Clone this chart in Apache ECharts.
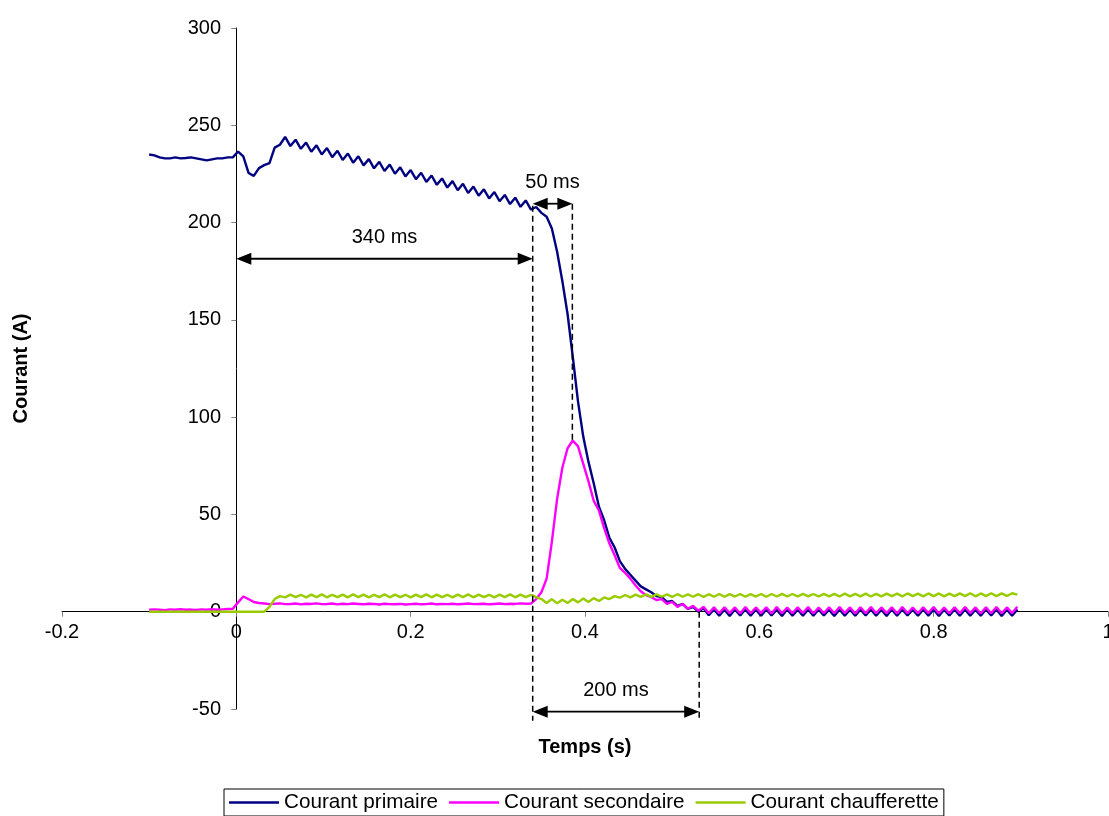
<!DOCTYPE html>
<html>
<head>
<meta charset="utf-8">
<script src="https://cdn.jsdelivr.net/npm/echarts@6/dist/echarts.min.js"></script>
<style>html,body{margin:0;padding:0;background:#fff}#c{width:1109px;height:816px}</style>
</head>
<body>
<div id="c"></div>
<script>
// Time (s), shared sampling for all three traces
const times = [
-0.100,-0.094,-0.088,-0.082,-0.076,-0.070,-0.064,-0.058,-0.052,-0.046,
-0.040,-0.034,-0.028,-0.022,-0.016,-0.010,-0.004,0.002,0.008,0.014,
0.020,0.026,0.032,0.038,0.044,0.050,0.056,0.062,0.068,0.074,
0.080,0.086,0.092,0.098,0.104,0.110,0.116,0.122,0.128,0.134,
0.140,0.146,0.152,0.158,0.164,0.170,0.176,0.182,0.188,0.194,
0.200,0.206,0.212,0.218,0.224,0.230,0.236,0.242,0.248,0.254,
0.260,0.266,0.272,0.278,0.284,0.290,0.296,0.302,0.308,0.314,
0.320,0.326,0.332,0.338,0.344,0.350,0.356,0.362,0.368,0.374,
0.380,0.386,0.392,0.398,0.404,0.410,0.416,0.422,0.428,0.434,
0.440,0.446,0.452,0.458,0.464,0.470,0.476,0.482,0.488,0.494,
0.500,0.506,0.512,0.518,0.524,0.530,0.536,0.542,0.548,0.554,
0.560,0.566,0.572,0.578,0.584,0.590,0.596,0.602,0.608,0.614,
0.620,0.626,0.632,0.638,0.644,0.650,0.656,0.662,0.668,0.674,
0.680,0.686,0.692,0.698,0.704,0.710,0.716,0.722,0.728,0.734,
0.740,0.746,0.752,0.758,0.764,0.770,0.776,0.782,0.788,0.794,
0.800,0.806,0.812,0.818,0.824,0.830,0.836,0.842,0.848,0.854,
0.860,0.866,0.872,0.878,0.884,0.890,0.896];

// Courant primaire (A)
const primaire = [
235,234.5,233.5,233,233,233.5,233,233.2,233.5,233,
232.5,232,232.5,233,233,233.5,233.5,236.5,234,225.5,
224,228,229.5,230.5,238.5,240,244.0,239.3,242.6,237.9,
241.1,236.4,239.7,235.0,238.3,233.6,236.9,232.2,235.5,230.8,
234.1,229.4,232.6,227.9,231.2,226.5,229.8,225.1,228.4,223.7,
227.0,222.3,225.6,220.9,224.2,219.4,222.7,218.0,221.3,216.6,
219.9,215.2,218.5,213.8,217.1,212.4,215.7,211.0,214.2,209.5,
212.8,208.1,211.4,206.7,208,205,203,197,185,170,
153,131,108,90,77,66,54,47,38,33,
26,22,19,16,13,11.5,10,8,7.5,5,
5.5,3,4,1.5,2.5,0,1.8,-1.8,1.2,-2,
1,-2.2,1.1,-1.9,1.2,-2,1,-2.1,1.1,-1.9,
1,-2.2,1.2,-2,1,-2.1,1.1,-2,1.2,-1.9,
1,-2.2,1.1,-2,1,-2.1,1.2,-1.9,1.1,-2,
1,-2.2,1.2,-2,1.1,-1.9,1,-2.1,1.2,-2,
1.1,-2.2,1,-1.9,1.2,-2,1.1,-2.1,1,-2,
1.2,-1.9,1.1,-2.2,1,-2,1.2];

// Courant secondaire (A)
const secondaire = [
1,1.2,1,0.8,1.2,1,1.3,1,1.1,0.9,
1.2,1,1.3,1,1.2,1.4,1.5,4.8,7.8,6.5,
5,4.5,4.2,3.9,4.1,4.3,3.9,4.0,4.2,3.8,
4.1,4.0,4.3,3.9,4.0,4.2,3.8,4.1,3.9,4.2,
4.0,3.8,4.1,4.0,3.7,4.1,3.9,3.8,4.0,3.7,
3.9,4.1,3.8,3.9,4.2,3.8,4.0,3.9,4.1,3.8,
4.0,4.2,3.9,4.0,4.1,3.8,4.0,4.2,3.9,4.1,
4.0,4.3,4.1,4.2,6.5,10,17,36,58,74,
84,88,85,76,67,57,52,43,35,29,
22.5,20,17,13.5,10.5,8.5,7.5,6,6.5,4,
5,2.5,4,1.5,3,0.5,2.5,-0.8,2.3,-0.8,
2.3,-0.7,2.2,-0.9,2.4,-0.8,2.2,-0.7,2.3,-0.9,
2.4,-0.8,2.2,-0.8,2.3,-0.7,2.4,-0.9,2.2,-0.8,
2.3,-0.8,2.4,-0.7,2.2,-0.9,2.3,-0.8,2.4,-0.8,
2.2,-0.7,2.3,-0.9,2.4,-0.8,2.2,-0.8,2.3,-0.7,
2.4,-0.9,2.2,-0.8,2.3,-0.8,2.4,-0.7,2.2,-0.9,
2.3,-0.8,2.4,-0.8,2.2,-0.7,2.5];

// Courant chaufferette (A)
const chaufferette = [
0,0,0,0,0,0,0,0,0,0,
0,0,0,0,0,0,0,0,0,0,
0,0,0,2.5,6.5,8,7.4,8.8,7.5,8.7,
7.4,8.8,7.5,8.9,7.4,8.7,7.5,8.8,7.4,8.9,
7.5,8.8,7.4,8.7,7.5,8.9,7.4,8.8,7.5,8.7,
7.4,8.8,7.5,8.9,7.4,8.8,7.5,8.7,7.4,8.8,
7.5,8.9,7.4,8.8,7.5,8.7,7.4,8.8,7.5,8.9,
7.4,8.8,7.5,8.7,7.5,6.5,4.5,6.5,4.3,6.2,
4.5,6.5,4.8,6.8,5,7,5.5,7.3,6.5,8,
7.2,8.6,7.4,8.8,7.6,8.9,7.6,8.9,7.7,8.9,
7.6,9.0,7.7,8.9,7.7,9.0,7.6,9.0,7.7,9.1,
7.7,9.0,7.8,9.1,7.7,9.0,7.8,9.1,7.7,9.1,
7.8,9.2,7.8,9.1,7.8,9.2,7.9,9.1,7.8,9.2,
7.9,9.2,7.8,9.3,7.9,9.2,7.9,9.3,7.8,9.2,
7.9,9.3,8.0,9.3,7.9,9.4,8.0,9.3,7.9,9.4,
8.0,9.4,7.9,9.3,8.0,9.4,8.0,9.5,7.9,9.4,
8.0,9.5,8.0,9.4,8.1,9.5,8.8];

const seriesNames = ['Courant primaire', 'Courant secondaire', 'Courant chaufferette'];

// Annotations in data units: dashed verticals [x, yTop, yBottom]
const dashedLines = [[0.34, 208.6, -56], [0.3855, 209.7, 88], [0.531, 0, -56]];
// Double arrows [xStart, xEnd, y] and their labels
const arrows = [[0, 0.34, 181.4], [0.34, 0.3855, 209.7], [0.34, 0.531, -51.4]];
const arrowLabels = ['340 ms', '50 ms', '200 ms'];

const toPairs = vals => times.map((t, i) => [t, vals[i]]);
const FONT = "'Liberation Sans', Arial, sans-serif";

function renderDashed(params, api) {
  const p1 = api.coord([api.value(0), api.value(1)]);
  const p2 = api.coord([api.value(0), api.value(2)]);
  return {
    type: 'line',
    shape: {x1: p1[0], y1: p1[1], x2: p2[0], y2: p2[1]},
    style: {stroke: '#000', lineWidth: 1.5, lineDash: [6, 4]}
  };
}

function renderArrow(params, api) {
  const a = api.coord([api.value(0), api.value(2)]);
  const b = api.coord([api.value(1), api.value(2)]);
  const hl = 15, hw = 6;
  const y = a[1];
  return {
    type: 'group',
    children: [
      {type: 'line', shape: {x1: a[0] + hl - 2, y1: y, x2: b[0] - hl + 2, y2: y},
       style: {stroke: '#000', lineWidth: 1.8}},
      {type: 'polygon', shape: {points: [[a[0], y], [a[0] + hl, y - hw], [a[0] + hl, y + hw]]},
       style: {fill: '#000'}},
      {type: 'polygon', shape: {points: [[b[0], y], [b[0] - hl, y - hw], [b[0] - hl, y + hw]]},
       style: {fill: '#000'}},
      {type: 'text', x: (a[0] + b[0]) / 2, y: y - 21,
       style: {text: arrowLabels[params.dataIndex], fill: '#000', font: '20px ' + FONT,
               align: 'center', verticalAlign: 'middle'}}
    ]
  };
}

const chart = echarts.init(document.getElementById('c'), null, {renderer: 'canvas'});
chart.setOption({
  animation: false,
  backgroundColor: '#ffffff',
  textStyle: {fontFamily: FONT},
  grid: {left: 62, right: 1, top: 28, bottom: 107, containLabel: false, outerBoundsMode: 'none'},
  xAxis: {
    type: 'value', min: -0.2, max: 1, interval: 0.2,
    axisLine: {onZero: true, lineStyle: {color: '#000', width: 1}},
    axisTick: {show: true, length: 5, lineStyle: {color: '#808080'}},
    axisLabel: {fontSize: 20, color: '#000', margin: -87, fontFamily: FONT, formatter: v => String(+v.toFixed(1))},
    splitLine: {show: false},
    name: 'Temps (s)', nameLocation: 'middle', nameGap: 28,
    nameTextStyle: {fontSize: 20, fontWeight: 'bold', color: '#000', fontFamily: FONT}
  },
  yAxis: {
    type: 'value', min: -50, max: 300, interval: 50,
    axisLine: {onZero: true, lineStyle: {color: '#000', width: 1}},
    axisTick: {show: true, length: 5, lineStyle: {color: '#808080'}},
    axisLabel: {fontSize: 20, color: '#000', margin: -159, fontFamily: FONT},
    splitLine: {show: false},
    name: 'Courant (A)', nameLocation: 'middle', nameGap: 31,
    nameTextStyle: {fontSize: 20, fontWeight: 'bold', color: '#000', fontFamily: FONT}
  },
  legend: {
    left: 224, top: 789, orient: 'horizontal',
    data: seriesNames,
    icon: 'rect', itemWidth: 50, itemHeight: 2.5, itemGap: 11,
    borderColor: '#000', borderWidth: 1, padding: [3, 5, 3, 5],
    textStyle: {fontSize: 20.7, color: '#000', fontFamily: FONT}
  },
  series: [
    {name: seriesNames[0], type: 'line', data: toPairs(primaire), showSymbol: false, symbol: 'none',
     lineStyle: {color: '#000080', width: 2.4}, itemStyle: {color: '#000080'}, z: 2},
    {name: seriesNames[1], type: 'line', data: toPairs(secondaire), showSymbol: false, symbol: 'none',
     lineStyle: {color: '#FF00FF', width: 2.4}, itemStyle: {color: '#FF00FF'}, z: 3},
    {name: seriesNames[2], type: 'line', data: toPairs(chaufferette), showSymbol: false, symbol: 'none',
     lineStyle: {color: '#99CC00', width: 2.4}, itemStyle: {color: '#99CC00'}, z: 4},
    {type: 'custom', data: dashedLines, renderItem: renderDashed, clip: false, silent: true, z: 5,
     encode: {x: 0, y: [1, 2]}},
    {type: 'custom', data: arrows, renderItem: renderArrow, clip: false, silent: true, z: 5,
     encode: {x: [0, 1], y: 2}}
  ]
});
</script>
</body>
</html>
